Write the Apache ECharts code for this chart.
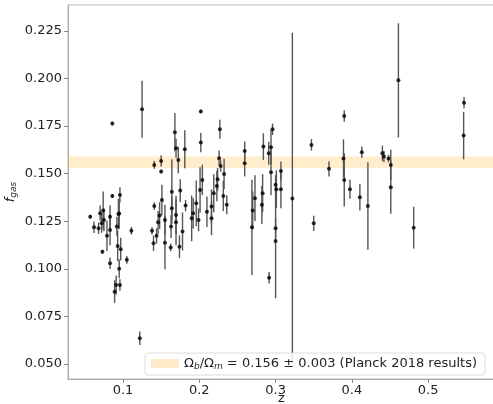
<!DOCTYPE html>
<html>
<head>
<meta charset="utf-8">
<script src="https://cdn.jsdelivr.net/npm/echarts@6/dist/echarts.min.js"></script>
<style>
  html, body { margin: 0; padding: 0; background: #fff; }
  #chart { width: 493px; height: 404px; }
</style>
</head>
<body>
<div id="chart"></div>
<script>
// ===== data =====
const zVals = [
  0.057, 0.062, 0.068, 0.070, 0.072, 0.074, 0.075, 0.073, 0.079, 0.083,
  0.083, 0.083, 0.086, 0.086, 0.089, 0.091, 0.092, 0.093, 0.094, 0.096,
  0.095, 0.095, 0.096, 0.097, 0.105, 0.111, 0.122, 0.125,
  0.138, 0.140, 0.141, 0.141, 0.144, 0.146, 0.148, 0.150, 0.150, 0.151,
  0.155, 0.155, 0.1625, 0.163, 0.164, 0.164, 0.168, 0.1695, 0.1695, 0.1695,
  0.1725, 0.174, 0.175, 0.178, 0.181, 0.182, 0.190, 0.192, 0.196, 0.199,
  0.201, 0.202, 0.202, 0.204, 0.210, 0.216, 0.216, 0.219, 0.223, 0.224,
  0.226, 0.227, 0.228, 0.2315, 0.2325, 0.236, 0.2595, 0.2595, 0.269, 0.270,
  0.273, 0.282, 0.283, 0.284, 0.291, 0.2915, 0.294, 0.296, 0.294, 0.300,
  0.301, 0.300, 0.300, 0.307, 0.307, 0.322, 0.347, 0.350, 0.370, 0.389,
  0.390, 0.390, 0.3975, 0.4105, 0.413, 0.421, 0.440, 0.442, 0.448, 0.451,
  0.451, 0.461, 0.481, 0.547, 0.5465
]
const fVals = [
  0.1274, 0.1218, 0.1213, 0.1292, 0.1239, 0.1306, 0.1257, 0.109, 0.1173, 0.1274,
  0.1204, 0.1029, 0.1383, 0.1763, 0.088, 0.0915, 0.1222, 0.112, 0.1288, 0.1388,
  0.129, 0.100, 0.0915, 0.1103, 0.1047, 0.120, 0.0635, 0.1838,
  0.120, 0.1134, 0.133, 0.1546, 0.1173, 0.1244, 0.128, 0.1567, 0.1511, 0.1362,
  0.1137, 0.1257, 0.1112, 0.1222, 0.1405, 0.1318, 0.1718, 0.1633, 0.1283, 0.1244,
  0.1572, 0.1116, 0.1411, 0.1196, 0.1628, 0.1332, 0.1265, 0.1292, 0.1344, 0.1257,
  0.1414, 0.1827, 0.1663, 0.1467, 0.130, 0.1327, 0.1266, 0.1397, 0.1435, 0.147,
  0.1581, 0.1733, 0.154, 0.1383, 0.1498, 0.1336, 0.1619, 0.1555, 0.1218, 0.1306,
  0.1371, 0.1336, 0.1397, 0.1642, 0.1607, 0.0953, 0.1638, 0.1733, 0.1507, 0.1441,
  0.1418, 0.1213, 0.1146, 0.1514, 0.1418, 0.137, 0.1651, 0.1239, 0.1525, 0.158,
  0.1803, 0.1467, 0.1418, 0.1376, 0.1612, 0.133, 0.1607, 0.159, 0.1579, 0.1546,
  0.1429, 0.199, 0.1216, 0.1873, 0.170
]
const fErr = [
  0.001, 0.003, 0.003, 0.004, 0.005, 0.010, 0.006, 0.001, 0.008, 0.006,
  0.008, 0.003, 0.001, 0.001, 0.006, 0.005, 0.005, 0.008, 0.008, 0.004,
  0.008, 0.005, 0.003, 0.006, 0.002, 0.002, 0.0035, 0.015,
  0.002, 0.004, 0.002, 0.002, 0.004, 0.006, 0.007, 0.003, 0.001, 0.008,
  0.014, 0.008, 0.002, 0.006, 0.017, 0.006, 0.010, 0.005, 0.010, 0.012,
  0.007, 0.006, 0.006, 0.010, 0.010, 0.003, 0.012, 0.008, 0.012, 0.006,
  0.012, 0.001, 0.005, 0.008, 0.008, 0.009, 0.009, 0.010, 0.008, 0.006,
  0.004, 0.005, 0.003, 0.008, 0.008, 0.005, 0.005, 0.007, 0.025, 0.010,
  0.012, 0.010, 0.010, 0.007, 0.006, 0.003, 0.009, 0.003, 0.012, 0.005,
  0.010, 0.005, 0.030, 0.005, 0.010, 0.087, 0.003, 0.004, 0.004, 0.010,
  0.003, 0.014, 0.005, 0.007, 0.003, 0.023, 0.004, 0.003, 0.002, 0.008,
  0.014, 0.030, 0.011, 0.003, 0.0125
]

// Planck band
const bandLo = 0.153
const bandHi = 0.159
const bandName = 'Planck'

const xTicks = [0.1, 0.2, 0.3, 0.4, 0.5]
const yTicks = [0.050, 0.075, 0.100, 0.125, 0.150, 0.175, 0.200, 0.225]

// ===== chart =====
const chart = echarts.init(document.getElementById('chart'))
const font = 'DejaVu Sans'

const errData = zVals.map((z, i) => [z, fVals[i] - fErr[i], fVals[i] + fErr[i]])
const ptData = zVals.map((z, i) => [z, fVals[i]])

const renderErr = (params, api) => {
  const x = api.value(0)
  const lo = api.coord([x, api.value(1)])
  const hi = api.coord([x, api.value(2)])
  return {
    type: 'line',
    shape: { x1: lo[0], y1: lo[1], x2: hi[0], y2: hi[1] },
    style: { stroke: '#555', lineWidth: 1.4 }
  }
}

const option = {
  animation: false,
  grid: {
    left: 68, top: 5, right: -2, bottom: 25,
    containLabel: false, outerBoundsMode: 'none',
    show: true, borderColor: '#bbb', borderWidth: 1
  },
  xAxis: {
    type: 'value',
    min: 0.0279,
    max: 0.5876,
    splitLine: { show: false },
    axisLine: { show: true, onZero: false, lineStyle: { color: '#aaa' } },
    axisTick: { show: true, customValues: xTicks, length: 4, lineStyle: { color: '#888' } },
    axisLabel: {
      customValues: xTicks, formatter: v => v.toFixed(1),
      fontFamily: font, fontSize: 13, color: '#222', margin: 5
    },
    name: 'z',
    nameLocation: 'middle',
    nameGap: 13,
    nameMoveOverlap: false,
    nameTextStyle: { fontFamily: font, fontSize: 13, color: '#222', verticalAlign: 'top', lineHeight: 13 }
  },
  yAxis: {
    type: 'value',
    min: 0.0421,
    max: 0.2386,
    splitLine: { show: false },
    axisLine: { show: true, onZero: false, lineStyle: { color: '#aaa' } },
    axisTick: { show: true, customValues: yTicks, length: 4, lineStyle: { color: '#888' } },
    axisLabel: {
      customValues: yTicks, formatter: v => v.toFixed(3),
      fontFamily: font, fontSize: 13, color: '#222', margin: 6
    },
    name: '{f|f}{s|gas}',
    nameLocation: 'middle',
    nameGap: 50,
    nameMoveOverlap: false,
    nameTextStyle: {
      rich: {
        f: { fontFamily: font, fontStyle: 'italic', fontSize: 13, color: '#222' },
        s: { fontFamily: font, fontStyle: 'italic', fontSize: 9, color: '#222', padding: [6, 0, 0, 0] }
      }
    }
  },
  legend: {
    data: [{ name: bandName, icon: 'rect' }],
    left: 145,
    top: 353,
    itemWidth: 28,
    itemHeight: 9,
    padding: [4, 8, 4, 6],
    borderColor: '#ddd',
    borderWidth: 1,
    borderRadius: 3,
    backgroundColor: 'rgba(255,255,255,0.85)',
    selectedMode: false,
    formatter: () => '{a|Ω}{s|b}{a|/Ω}{s|m}{a| = 0.156 ± 0.003 (Planck 2018 results)}',
    textStyle: {
      fontFamily: font, fontSize: 13, color: '#222',
      rich: {
        a: { fontFamily: font, fontSize: 13, color: '#222' },
        s: { fontFamily: font, fontStyle: 'italic', fontSize: 9, color: '#222', padding: [6, 0, 0, 0] }
      }
    }
  },
  series: [
    {
      name: bandName,
      type: 'line',
      data: [],
      itemStyle: { color: 'rgba(255,165,0,0.22)' },
      lineStyle: { color: 'rgba(255,165,0,0.22)' },
      markArea: {
        silent: true,
        itemStyle: { color: 'rgba(255,165,0,0.2)' },
        data: [[{ yAxis: bandLo }, { yAxis: bandHi }]]
      }
    },
    {
      name: 'err',
      type: 'custom',
      renderItem: renderErr,
      data: errData,
      clip: true,
      z: 3
    },
    {
      name: 'pts',
      type: 'scatter',
      data: ptData,
      symbolSize: 4,
      itemStyle: { color: '#000' },
      z: 4
    }
  ]
}

chart.setOption(option)
</script>
</body>
</html>
